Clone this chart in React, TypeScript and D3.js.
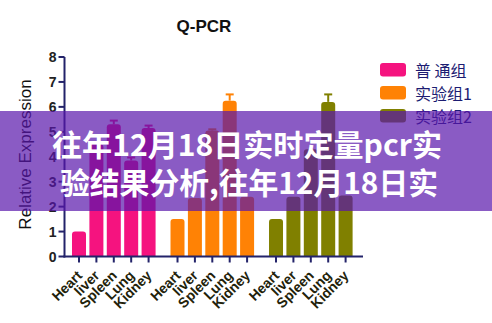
import React from "react";
import * as d3 from "d3";

const groups = ["普通组", "实验组1", "实验组2"];
const legendLabels = ["普  通组", "实验组1", "实验组2"];
const categories = ["Heart", "liver", "Spleen", "Lung", "Kidney"];
const pinkValues = [1.0, 4.5, 5.3, 3.85, 5.15];
const pinkErrors = [0, 0, 0.15, 0.12, 0.1];
const orangeValues = [1.5, 2.35, 5.05, 6.25, 2.4];
const orangeErrors = [0, 0, 0.05, 0.25, 0];
const oliveValues = [1.5, 2.4, 4.3, 6.2, 2.45];
const oliveErrors = [0, 0, 0, 0.3, 0];
const yTicks = [0, 1, 2, 3, 4, 5, 6, 7, 8];
const colors = ["#f5137f", "#ff8205", "#808000"];
const overlayLines = ["往年12月18日实时定量pcr实", "验结果分析,往年12月18日实"];

const seriesValues = [pinkValues, orangeValues, oliveValues];
const seriesErrors = [pinkErrors, orangeErrors, oliveErrors];

const W = 492, H = 323;
const axisX = 64.5;
const axisColor = "#23236a";

export default function App() {
  const y = d3.scaleLinear().domain([0, 8]).range([256.5, 57]);
  const gx = d3.scaleBand<string>().domain(groups).range([70.3, 354.3]).paddingInner(0.117).paddingOuter(0);
  const ix = d3.scaleBand<string>().domain(categories).range([0, gx.bandwidth()]).padding(0);
  const barW = 14;
  const r = 3;

  const bars: any[] = [];
  groups.forEach((g, gi) => {
    categories.forEach((c, ci) => {
      const cx = (gx(g) as number) + (ix(c) as number) + ix.bandwidth() / 2;
      bars.push({ g, gi, c, ci, cx, v: seriesValues[gi][ci], e: seriesErrors[gi][ci] });
    });
  });

  const barPath = (cx: number, v: number) => {
    const x0 = cx - barW / 2, x1 = cx + barW / 2;
    const yt = y(v), yb = y(0);
    return `M${x0},${yb}V${yt + r}Q${x0},${yt} ${x0 + r},${yt}H${x1 - r}Q${x1},${yt} ${x1},${yt + r}V${yb}Z`;
  };

  return (
    <svg width={W} height={H} style={{ position: "absolute", left: 0, top: 0, background: "#fff" }}
      fontFamily="'Liberation Sans', Arial, sans-serif">
      <rect width={W} height={H} fill="#fff" />
      <text x={204} y={32} textAnchor="middle" fontWeight="bold" fontSize={17} fill="#111">Q-PCR</text>
      <text transform={`translate(31,154.5) rotate(-90)`} textAnchor="middle" fontSize={17} fill="#111">Relative Expression</text>

      {bars.map((b, i) => (
        <g key={i}>
          {b.e > 0 && (
            <g stroke={colors[b.gi]} strokeWidth={2}>
              <line x1={b.cx} x2={b.cx} y1={y(b.v)} y2={y(b.v + b.e)} />
              <line x1={b.cx - 4} x2={b.cx + 4} y1={y(b.v + b.e)} y2={y(b.v + b.e)} />
            </g>
          )}
          <path d={barPath(b.cx, b.v)} fill={colors[b.gi]} />
        </g>
      ))}

      <line x1={axisX} x2={axisX} y1={y(8)} y2={y(0) + 1} stroke={axisColor} strokeWidth={2} />
      {yTicks.map((t) => (
        <g key={t}>
          <line x1={axisX - 6} x2={axisX} y1={y(t)} y2={y(t)} stroke={axisColor} strokeWidth={2} />
          <text x={axisX - 8} y={y(t) + 5} textAnchor="end" fontWeight="bold" fontSize={14} fill="#222">{t}</text>
        </g>
      ))}
      <line x1={axisX - 1} x2={363} y1={y(0)} y2={y(0)} stroke={axisColor} strokeWidth={2} />
      {bars.map((b, i) => (
        <g key={"t" + i}>
          <line x1={b.cx} x2={b.cx} y1={y(0)} y2={y(0) + 6} stroke={axisColor} strokeWidth={2} />
          <text transform={`translate(${b.cx + 4},${y(0) + 20}) rotate(-45)`} textAnchor="end"
            fontWeight="bold" fontSize={14} fill="#22220a">{b.c}</text>
        </g>
      ))}

      {legendLabels.map((l, i) => (
        <g key={l} transform={`translate(380,${63 + i * 23})`}>
          <rect x={0} y={0} width={26} height={13.5} rx={3} fill={colors[i]} />
          <text x={35} y={13.5} fontSize={16} fill="#1c1c72" fontFamily="'Noto Sans CJK SC', sans-serif">{l}</text>
        </g>
      ))}

      <rect x={0} y={111} width={W} height={100} fill="rgb(88,22,171)" fillOpacity={0.7} />
      <text x={52} y={156} fontSize={30} fontWeight="bold" fill="#fff" textLength={390} lengthAdjust="spacingAndGlyphs"
        fontFamily="'Noto Sans CJK SC', sans-serif">{overlayLines[0]}</text>
      <text x={60} y={194} fontSize={30} fontWeight="bold" fill="#fff" textLength={378} lengthAdjust="spacingAndGlyphs"
        fontFamily="'Noto Sans CJK SC', sans-serif">{overlayLines[1]}</text>
    </svg>
  );
}
